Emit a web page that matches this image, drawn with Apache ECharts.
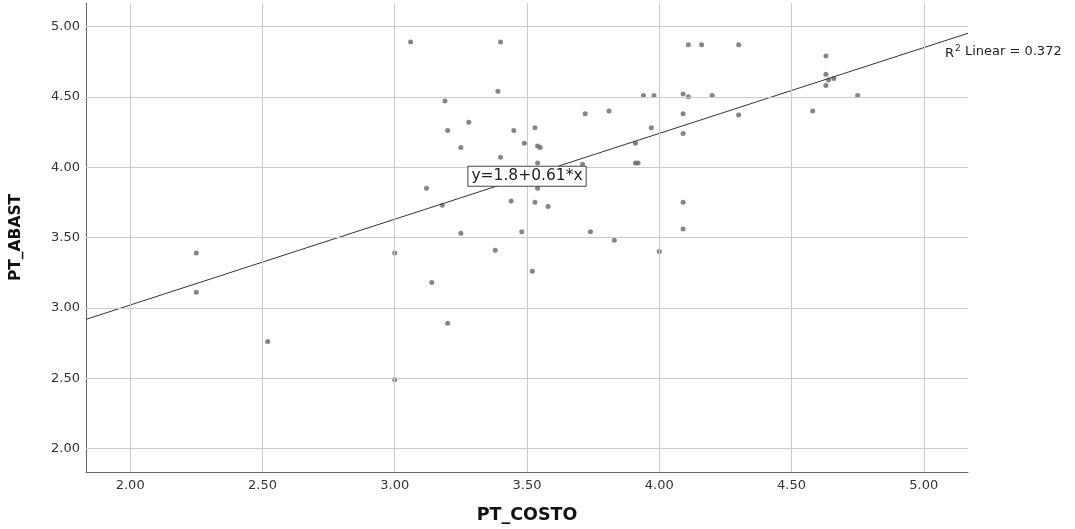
<!DOCTYPE html>
<html>
<head>
<meta charset="utf-8">
<script src="https://cdn.jsdelivr.net/npm/echarts@6/dist/echarts.min.js"></script>
<style>html,body{margin:0;padding:0;background:#fff;}#c{width:1075px;height:529px;}</style>
</head>
<body>
<div id="c"></div>
<script>
// Observations: [PT_COSTO, PT_ABAST]
const points = [
  [2.25,3.39],[2.25,3.11],[2.52,2.76],[3.00,3.39],[3.00,2.49],[3.14,3.18],
  [3.06,4.89],[3.12,3.85],[3.40,4.89],[3.39,4.54],[3.19,4.47],[3.28,4.32],
  [3.20,4.26],[3.45,4.26],[3.53,4.28],[3.25,4.14],[3.49,4.17],[3.54,4.15],
  [3.55,4.14],[3.40,4.07],[3.54,4.03],[3.71,4.02],[3.72,4.38],[3.81,4.40],
  [3.94,4.51],[3.98,4.51],[3.97,4.28],[3.91,4.17],[3.91,4.03],[3.92,4.03],
  [3.18,3.73],[3.54,3.85],[3.44,3.76],[3.53,3.75],[3.58,3.72],[3.25,3.53],
  [3.48,3.54],[3.74,3.54],[3.83,3.48],[3.38,3.41],[4.00,3.40],[3.52,3.26],
  [3.20,2.89],[4.09,3.75],[4.09,3.56],[4.11,4.87],[4.16,4.87],[4.30,4.87],
  [4.63,4.79],[4.63,4.66],[4.64,4.62],[4.63,4.58],[4.66,4.63],[4.09,4.52],
  [4.11,4.50],[4.20,4.51],[4.75,4.51],[4.58,4.40],[4.09,4.38],[4.30,4.37],
  [4.09,4.24]
];
const xTicks = [2.00, 2.50, 3.00, 3.50, 4.00, 4.50, 5.00];
const yTicks = [2.00, 2.50, 3.00, 3.50, 4.00, 4.50, 5.00];
const xRange = [1.833, 5.167];
const yRange = [1.833, 5.167];
const fitIntercept = 1.8;
const fitSlope = 0.61;
const fitLabel = 'y=1.8+0.61*x';
const fitLabelAtX = 3.5;
const r2Text = ' Linear = 0.372';
const xName = 'PT_COSTO';
const yName = 'PT_ABAST';

const fitLine = xRange.map(x => [x, fitIntercept + fitSlope * x]);
const gridColor = '#cbcbcb';

const chart = echarts.init(document.getElementById('c'), null, {renderer: 'canvas'});
chart.setOption({
  animation: false,
  backgroundColor: '#fff',
  grid: {left: 85, right: 107, top: 3, bottom: 56},
  xAxis: {
    type: 'value', min: xRange[0], max: xRange[1],
    name: xName, nameLocation: 'middle', nameGap: 34,
    nameTextStyle: {fontFamily: 'DejaVu Sans', fontWeight: 'bold', fontSize: 17.5, color: '#111'},
    axisLine: {show: true, onZero: false, lineStyle: {color: '#666', width: 1}},
    axisTick: {show: false},
    splitLine: {show: false},
    axisLabel: {customValues: xTicks, formatter: v => v.toFixed(2), fontFamily: 'DejaVu Sans', fontSize: 13, color: '#333', margin: 7}
  },
  yAxis: {
    type: 'value', min: yRange[0], max: yRange[1],
    name: yName, nameLocation: 'middle', nameGap: 62,
    nameTextStyle: {fontFamily: 'DejaVu Sans', fontWeight: 'bold', fontSize: 15.5, color: '#111'},
    axisLine: {show: true, onZero: false, lineStyle: {color: '#666', width: 1}},
    axisTick: {show: false},
    splitLine: {show: false},
    axisLabel: {customValues: yTicks, formatter: v => v.toFixed(2), fontFamily: 'DejaVu Sans', fontSize: 13, color: '#333', margin: 6}
  },
  series: [
    {
      type: 'line', data: [], silent: true,
      markLine: {
        silent: true, symbol: 'none', animation: false,
        label: {show: false},
        lineStyle: {color: gridColor, width: 1, type: 'solid'},
        data: xTicks.map(v => ({xAxis: v})).concat(yTicks.map(v => ({yAxis: v})))
      }
    },
    {
      type: 'scatter', data: points, symbol: 'circle', symbolSize: 5,
      itemStyle: {color: '#666'}, z: 3
    },
    {
      type: 'line', data: fitLine, showSymbol: false, symbol: 'none',
      lineStyle: {color: '#333', width: 1}, z: 4,
      markPoint: {
        symbol: 'rect', symbolSize: 0, silent: true,
        data: [{coord: [fitLabelAtX, fitIntercept + fitSlope * fitLabelAtX]}],
        label: {
          show: true, position: 'inside', formatter: fitLabel,
          fontFamily: 'DejaVu Sans', fontSize: 15.5, color: '#222',
          backgroundColor: '#fff', borderColor: '#444', borderWidth: 1,
          padding: [2, 3, 1, 3]
        },
        z: 10
      }
    }
  ],
  graphic: [{
    type: 'text', left: 945, top: 44,
    style: {
      rich: {
        r: {fontFamily: 'DejaVu Sans', fontSize: 13, fill: '#222', verticalAlign: 'bottom'},
        s: {fontFamily: 'DejaVu Sans', fontSize: 9, fill: '#222', verticalAlign: 'top', padding: [0,0,7,1]},
        t: {fontFamily: 'DejaVu Sans', fontSize: 13, fill: '#222'}
      },
      text: '{r|R}{s|2}{t|' + r2Text + '}'
    }
  }]
});
</script>
</body>
</html>
